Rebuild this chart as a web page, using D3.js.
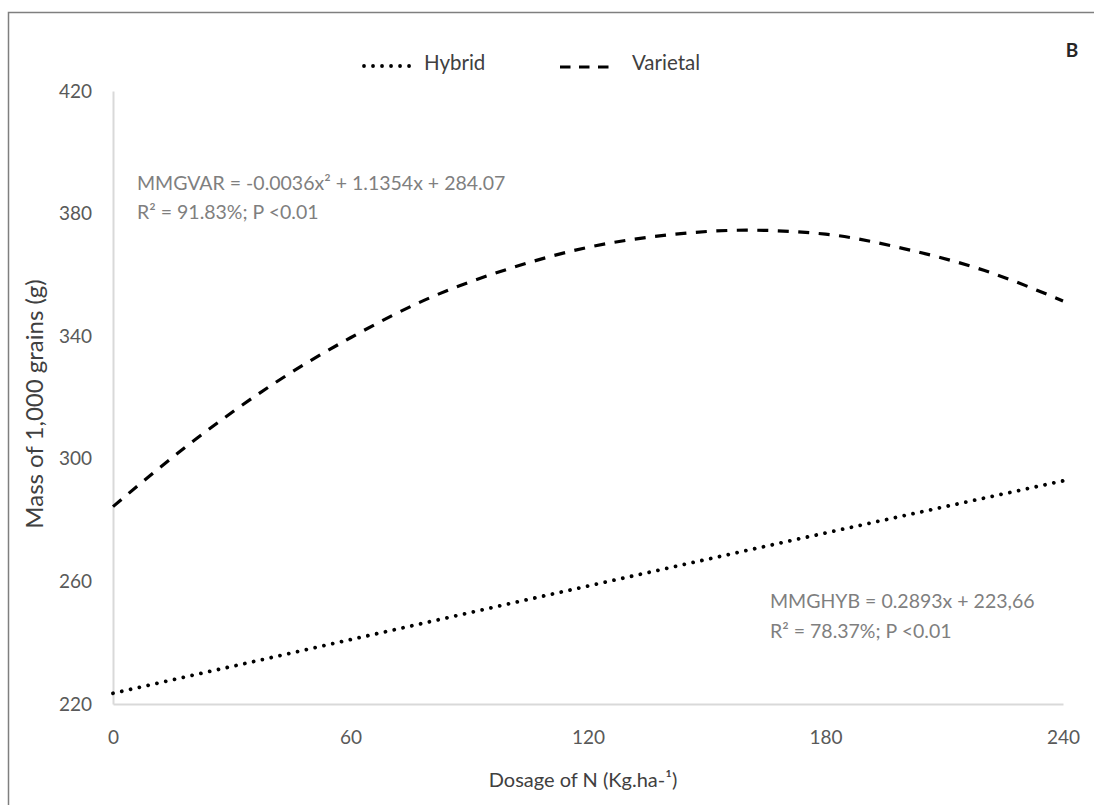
<!DOCTYPE html>
<html>
<head>
    <title>Mass of 1,000 grains</title>
    <script src="https://d3js.org/d3.v7.min.js"></script>
    <style>
        body { margin: 0; background: #fff; }
        text { font-family: Lato, "Open Sans", sans-serif; }
    </style>
</head>
<body>
    <div id="chart"></div>

    <script>
        // dosage of N (x values)
        var dosage = [0, 20, 40, 60, 80, 100, 120, 140, 160, 180, 200, 220, 240];
        // varietal trend
        var varietal = [284.4, 305.5, 324, 339.5, 352.5, 362, 369, 373, 374.6, 373.3, 368.5, 361.5, 351.5];
        // hybrid trend (straight line)
        var hybridDosage = [0, 60, 120, 180, 240];
        var hybrid = [223.5, 241, 258.5, 275.8, 292.8];

        var xTicks = [0, 60, 120, 180, 240];
        var yTicks = [220, 260, 300, 340, 380, 420];
        var seriesNames = ["Hybrid", "Varietal"];

        var width = 1094;
        var height = 805;
        var margin = { left: 113, right: 31, top: 91, bottom: 101 };

        var svg = d3.select("#chart")
            .append("svg")
            .attr("width", width)
            .attr("height", height);

        // outer frame
        svg.append("rect")
            .attr("x", 8.5)
            .attr("y", 12.5)
            .attr("width", 1100)
            .attr("height", 820)
            .attr("fill", "none")
            .attr("stroke", "#7f7f7f")
            .attr("stroke-width", 1.5);

        var xScale = d3.scaleLinear()
            .domain([0, 240])
            .range([margin.left, width - margin.right]);

        var yScale = d3.scaleLinear()
            .domain([220, 420])
            .range([height - margin.bottom, margin.top]);

        // axes
        svg.append("g")
            .attr("transform", "translate(0," + (height - margin.bottom) + ")")
            .call(d3.axisBottom(xScale).tickValues(xTicks).tickSize(0).tickPadding(27));

        svg.append("g")
            .attr("transform", "translate(" + margin.left + ",0)")
            .call(d3.axisLeft(yScale).tickValues(yTicks).tickSize(0).tickPadding(21));

        svg.selectAll(".domain")
            .attr("stroke", "#d9d9d9")
            .attr("stroke-width", 2);

        svg.selectAll(".tick text")
            .attr("fill", "#595959")
            .style("font-size", "19px");

        // lines
        var line = d3.line()
            .x(function(d) { return xScale(d[0]); })
            .y(function(d) { return yScale(d[1]); })
            .curve(d3.curveMonotoneX);

        svg.append("path")
            .datum(d3.zip(hybridDosage, hybrid))
            .attr("fill", "none")
            .attr("stroke", "#000")
            .attr("stroke-width", 3.8)
            .attr("stroke-linecap", "round")
            .attr("stroke-dasharray", "0.01 9")
            .attr("d", line);

        svg.append("path")
            .datum(d3.zip(dosage, varietal))
            .attr("fill", "none")
            .attr("stroke", "#000")
            .attr("stroke-width", 3.2)
            .attr("stroke-dasharray", "11 9.5")
            .attr("d", line);

        // legend
        var legend = svg.append("g");
        legend.append("line")
            .attr("x1", 364).attr("x2", 415).attr("y1", 66).attr("y2", 66)
            .attr("stroke", "#000").attr("stroke-width", 3.8)
            .attr("stroke-linecap", "round").attr("stroke-dasharray", "0.01 9");
        legend.append("text")
            .attr("x", 424).attr("y", 70)
            .attr("fill", "#404040").style("font-size", "20.5px")
            .text(seriesNames[0]);
        legend.append("line")
            .attr("x1", 560).attr("x2", 613).attr("y1", 67).attr("y2", 67)
            .attr("stroke", "#000").attr("stroke-width", 3.2)
            .attr("stroke-dasharray", "10.5 8.5");
        legend.append("text")
            .attr("x", 632).attr("y", 70)
            .attr("fill", "#404040").style("font-size", "20.5px")
            .text(seriesNames[1]);

        svg.append("text")
            .attr("x", 1072).attr("y", 57)
            .attr("text-anchor", "middle")
            .attr("fill", "#262626")
            .style("font-size", "19px").style("font-weight", "bold")
            .text("B");

        // equations
        var eqVar = svg.append("g").attr("fill", "#7f7f7f").style("font-size", "19.5px");
        eqVar.append("text").attr("x", 137).attr("y", 190)
            .text("MMGVAR = -0.0036x² + 1.1354x + 284.07");
        eqVar.append("text").attr("x", 137).attr("y", 219)
            .text("R² = 91.83%; P <0.01");

        var eqHyb = svg.append("g").attr("fill", "#7f7f7f").style("font-size", "19.5px");
        eqHyb.append("text").attr("x", 770).attr("y", 608)
            .text("MMGHYB = 0.2893x + 223,66");
        eqHyb.append("text").attr("x", 770).attr("y", 638)
            .text("R² = 78.37%; P <0.01");

        // axis titles
        svg.append("text")
            .attr("x", 583).attr("y", 787)
            .attr("text-anchor", "middle")
            .attr("fill", "#404040").style("font-size", "20px")
            .text("Dosage of N (Kg.ha-¹)");

        svg.append("text")
            .attr("transform", "translate(43,404) rotate(-90)")
            .attr("text-anchor", "middle")
            .attr("fill", "#404040").style("font-size", "24px")
            .text("Mass of 1,000 grains (g)");
    </script>
</body>
</html>
